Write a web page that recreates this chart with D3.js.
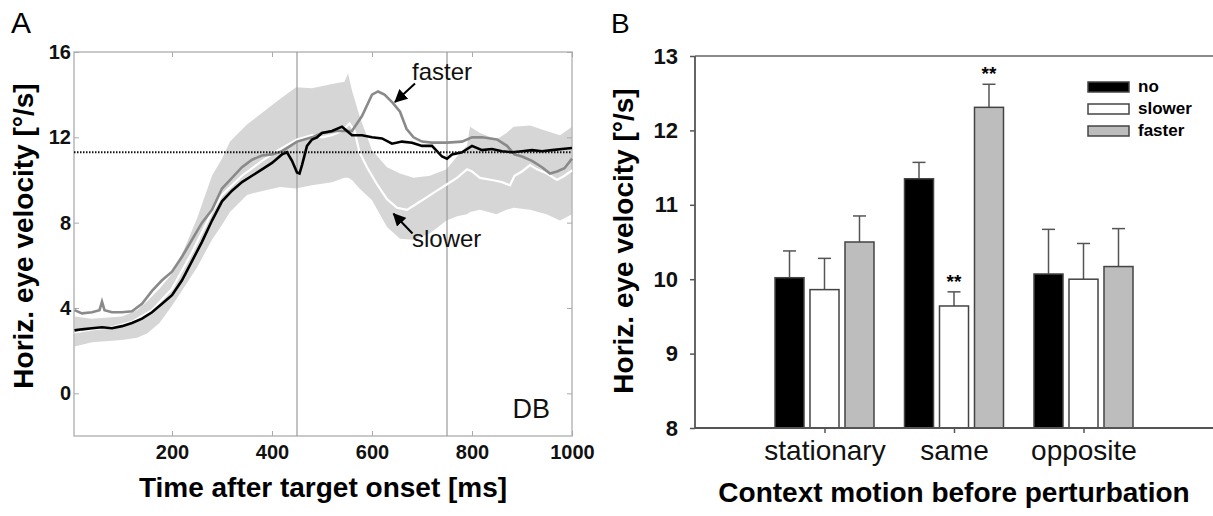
<!DOCTYPE html>
<html lang="en">
<head>
<meta charset="UTF-8">
<script src="https://d3js.org/d3.v7.min.js"></script>
<title>Horizontal eye velocity</title>
<style>
    body { margin: 0; background: #fff; }
    svg { display: block; font-family: "Liberation Sans", Arial, Helvetica, sans-serif; }
    .title { font-weight: bold; font-size: 28px; }
    .tickA text { font-weight: bold; font-size: 20px; fill: #111; }
    .tickA line { stroke: #aaa; }
    .tickB text { font-weight: bold; font-size: 22px; fill: #111; }
    .tickB line { stroke: #555; stroke-width: 1.5px; }
    .cat text { font-size: 28px; fill: #111; }
    .cat line { stroke: #555; stroke-width: 1.5px; }
</style>
</head>
<body>
<svg id="chart" width="1213" height="516"></svg>
<script>
// panel A: traces (time in ms, velocity in deg/s)
const noTime = [5,20,40,60,80,100,120,140,160,180,200,220,240,260,280,300,320,340,360,380,400,420,430,440,450,455,460,470,480,490,500,520,540,550,560,580,600,620,640,660,680,700,720,740,750,760,780,800,820,840,860,880,900,920,940,960,980,1000];
const noVel  = [2.95,3.0,3.05,3.1,3.05,3.15,3.3,3.5,3.8,4.2,4.6,5.3,6.2,7.1,8.1,9.0,9.5,9.9,10.2,10.5,10.8,11.2,11.3,10.9,10.35,10.3,10.7,11.6,11.9,12.0,12.2,12.3,12.5,12.3,12.1,12.1,12.0,11.95,11.7,11.8,11.75,11.6,11.6,11.1,11.0,11.2,11.3,11.6,11.4,11.45,11.35,11.3,11.35,11.4,11.35,11.4,11.45,11.5];

const slowerTime = [5,40,80,120,160,200,240,280,300,340,380,420,450,480,500,520,540,555,565,575,590,610,630,650,670,690,710,730,750,770,790,800,816,840,860,876,885,900,916,930,950,970,985,1000];
const slowerVel  = [2.85,3.0,3.1,3.35,3.9,4.9,6.6,8.5,9.3,10.2,10.9,11.5,11.9,12.1,12.0,12.1,12.3,12.65,12.3,11.3,10.6,9.8,9.1,8.7,8.6,8.9,9.2,9.5,9.8,10.1,10.5,10.4,10.1,10.0,9.9,9.75,10.2,10.4,10.7,10.5,10.3,10.0,10.2,10.45];

const fasterTime = [5,20,40,55,60,65,80,100,120,140,160,180,200,220,240,260,280,300,320,340,360,380,400,420,450,480,500,530,560,580,600,612,625,642,656,669,683,700,720,750,780,800,820,850,870,885,900,920,940,956,970,985,1000];
const fasterVel  = [3.9,3.75,3.8,3.9,4.3,3.9,3.8,3.8,3.85,4.2,4.8,5.3,5.7,6.4,7.2,8.0,8.6,9.6,10.1,10.6,10.95,11.15,11.2,11.35,11.8,12.0,12.2,12.3,12.3,13.0,14.0,14.15,14.0,13.6,13.2,12.4,12.0,11.8,11.75,11.75,11.8,12.0,12.0,11.9,11.6,11.2,11.1,10.9,10.6,10.3,10.4,10.55,11.0];

// shaded variability band
const bandTime  = [5,40,100,130,150,175,200,225,250,280,300,316,350,383,416,448,480,520,545,552,560,575,600,630,656,683,716,749,770,790,796,816,849,869,883,916,949,976,1000];
const bandUpper = [3.6,3.5,3.6,3.9,4.3,4.9,5.6,6.8,8.2,10.2,11.0,11.8,12.6,13.2,13.8,14.35,14.3,14.5,14.6,15.0,14.2,13.0,11.4,10.6,10.3,10.1,10.2,10.5,11.1,11.6,12.5,12.2,11.9,12.2,12.5,12.55,12.3,12.1,12.5];
const bandLower = [2.2,2.4,2.5,2.6,2.8,3.3,4.1,5.0,5.9,7.2,7.9,8.5,9.3,9.5,9.67,9.6,9.75,9.9,10.1,10.1,10.0,9.6,9.05,7.8,7.25,7.2,7.5,8.1,8.3,8.4,8.5,8.6,8.4,8.6,8.7,8.6,8.4,8.1,8.4];

const eventTimes = [450, 750];
const targetVel = 11.3;
const xTicksA = [200, 400, 600, 800, 1000];
const yTicksA = [0, 4, 8, 12, 16];

// panel B: mean velocity per context and perturbation
const categories = ["stationary", "same", "opposite"];
const series = ["no", "slower", "faster"];
const noMean = [10.02, 11.35, 10.07];
const slowerMean = [9.86, 9.64, 10.0];
const fasterMean = [10.5, 12.31, 10.17];
const noErr = [0.36, 0.22, 0.6];
const slowerErr = [0.42, 0.19, 0.48];
const fasterErr = [0.35, 0.31, 0.51];
const significant = [["same", "slower"], ["same", "faster"]];
const yTicksB = [8, 9, 10, 11, 12, 13];

const svg = d3.select("#chart");
const zip = (t, v) => t.map((d, i) => [d, v[i]]);
const intFmt = d3.format("d");

// ---------- panel A ----------
const xA = d3.scaleLinear().domain([4, 1000]).range([74, 572]);
const yA = d3.scaleLinear().domain([-2, 16]).range([436, 52]);
const gA = svg.append("g");

gA.append("path")
    .datum(bandTime.map((t, i) => ({t: t, lo: bandLower[i], hi: bandUpper[i]})))
    .attr("fill", "#d6d6d6")
    .attr("d", d3.area().x(d => xA(d.t)).y0(d => yA(d.lo)).y1(d => yA(d.hi)));

gA.append("rect")
    .attr("x", xA.range()[0]).attr("y", yA.range()[1])
    .attr("width", xA.range()[1] - xA.range()[0])
    .attr("height", yA.range()[0] - yA.range()[1])
    .attr("fill", "none").attr("stroke", "#b8b8b8").attr("stroke-width", 1.5);

gA.selectAll("line.event").data(eventTimes).enter().append("line")
    .attr("x1", d => xA(d)).attr("x2", d => xA(d))
    .attr("y1", yA.range()[0]).attr("y2", yA.range()[1])
    .attr("stroke", "#999").attr("stroke-width", 1.2);

const lineA = d3.line().x(d => xA(d[0])).y(d => yA(d[1]));
gA.append("path").datum(zip(slowerTime, slowerVel))
    .attr("fill", "none").attr("stroke", "#fff").attr("stroke-width", 2.2).attr("d", lineA);
gA.append("path").datum(zip(fasterTime, fasterVel))
    .attr("fill", "none").attr("stroke", "#8a8a8a").attr("stroke-width", 2.6).attr("d", lineA);
gA.append("path").datum(zip(noTime, noVel))
    .attr("fill", "none").attr("stroke", "#000").attr("stroke-width", 2.6).attr("d", lineA);

gA.append("line")
    .attr("x1", xA.range()[0]).attr("x2", xA.range()[1])
    .attr("y1", yA(targetVel)).attr("y2", yA(targetVel))
    .attr("stroke", "#111").attr("stroke-width", 2).attr("stroke-dasharray", "1.5,1.5");

// axes (MATLAB style box, ticks inward)
gA.append("g").attr("class", "tickA")
    .attr("transform", `translate(0,${yA.range()[0]})`)
    .call(d3.axisBottom(xA).tickValues(xTicksA).tickSize(-5).tickPadding(9).tickFormat(intFmt));
gA.append("g").attr("class", "tickA")
    .attr("transform", `translate(${xA.range()[0]},0)`)
    .call(d3.axisLeft(yA).tickValues(yTicksA).tickSize(-5).tickPadding(3).tickFormat(intFmt));
gA.append("g").attr("class", "tickA")
    .attr("transform", `translate(0,${yA.range()[1]})`)
    .call(d3.axisTop(xA).tickValues(xTicksA).tickSize(-5).tickFormat(""));
gA.append("g").attr("class", "tickA")
    .attr("transform", `translate(${xA.range()[1]},0)`)
    .call(d3.axisRight(yA).tickValues(yTicksA).tickSize(-5).tickFormat(""));
gA.selectAll(".tickA .domain").remove();

// annotations
const marker = svg.append("defs").append("marker")
    .attr("id", "head").attr("markerUnits", "userSpaceOnUse")
    .attr("viewBox", "0 0 12 12").attr("refX", 11).attr("refY", 6)
    .attr("markerWidth", 13).attr("markerHeight", 13).attr("orient", "auto");
marker.append("path").attr("d", "M0,0L12,6L0,12z").attr("fill", "#000");

const arrows = [
    {from: [686, 14.52], to: [646, 13.66]},
    {from: [681, 7.49], to: [643, 8.42]}
];
gA.selectAll("line.arrow").data(arrows).enter().append("line")
    .attr("x1", d => xA(d.from[0])).attr("y1", d => yA(d.from[1]))
    .attr("x2", d => xA(d.to[0])).attr("y2", d => yA(d.to[1]))
    .attr("stroke", "#000").attr("stroke-width", 2).attr("marker-end", "url(#head)");

const notes = [
    {text: "faster", t: 680, v: 14.67, anchor: "start"},
    {text: "slower", t: 680, v: 6.84, anchor: "start"},
    {text: "DB", t: 956, v: -1.17, anchor: "end"}
];
gA.selectAll("text.note").data(notes).enter().append("text")
    .attr("x", d => xA(d.t)).attr("y", d => yA(d.v))
    .attr("text-anchor", d => d.anchor)
    .attr("font-size", d => d.text === "DB" ? 27 : 24)
    .attr("fill", "#111")
    .text(d => d.text);

gA.append("text").attr("class", "title")
    .attr("x", 323).attr("y", 497).attr("text-anchor", "middle")
    .text("Time after target onset [ms]");
gA.append("text").attr("class", "title")
    .attr("transform", "translate(33,236) rotate(-90)").attr("text-anchor", "middle")
    .text("Horiz. eye velocity [°/s]");
svg.append("text").attr("x", 11).attr("y", 33).attr("font-size", 30).text("A");

// ---------- panel B ----------
const xB = d3.scaleLinear().domain([0, 4]).range([695, 1213]);
const yB = d3.scaleLinear().domain([8, 13]).range([428, 56]);
const inner = d3.scaleBand().domain(series).range([-49.5, 49.5]).paddingInner(0.171);
const fills = {no: "#000", slower: "#fff", faster: "#bdbdbd"};
const means = {no: noMean, slower: slowerMean, faster: fasterMean};
const errs = {no: noErr, slower: slowerErr, faster: fasterErr};
const gB = svg.append("g");

const bars = [];
categories.forEach((c, ci) => series.forEach(s => bars.push({
    cat: c, ser: s, pos: ci + 1, mean: means[s][ci], err: errs[s][ci]
})));

const cx = d => xB(d.pos) + inner(d.ser) + inner.bandwidth() / 2;

gB.selectAll("line.err").data(bars).enter().append("line")
    .attr("x1", cx).attr("x2", cx)
    .attr("y1", d => yB(d.mean)).attr("y2", d => yB(d.mean + d.err))
    .attr("stroke", "#555").attr("stroke-width", 1.5);
gB.selectAll("line.cap").data(bars).enter().append("line")
    .attr("x1", d => cx(d) - 6.5).attr("x2", d => cx(d) + 6.5)
    .attr("y1", d => yB(d.mean + d.err)).attr("y2", d => yB(d.mean + d.err))
    .attr("stroke", "#555").attr("stroke-width", 1.5);

gB.selectAll("rect.bar").data(bars).enter().append("rect")
    .attr("x", d => xB(d.pos) + inner(d.ser))
    .attr("width", inner.bandwidth())
    .attr("y", d => yB(d.mean))
    .attr("height", d => yB(8) - yB(d.mean))
    .attr("fill", d => fills[d.ser])
    .attr("stroke", "#444").attr("stroke-width", 1.5);

gB.selectAll("text.sig").data(bars.filter(b => significant.some(p => p[0] === b.cat && p[1] === b.ser)))
    .enter().append("text")
    .attr("x", cx).attr("y", d => yB(d.mean + d.err) - 4)
    .attr("text-anchor", "middle").attr("font-size", 19).attr("font-weight", "bold")
    .text("**");

// frame lines
gB.append("line").attr("x1", xB.range()[0]).attr("x2", xB.range()[1])
    .attr("y1", yB(13)).attr("y2", yB(13)).attr("stroke", "#666").attr("stroke-width", 1.5);
gB.append("line").attr("x1", xB.range()[0]).attr("x2", xB.range()[1])
    .attr("y1", yB(8)).attr("y2", yB(8)).attr("stroke", "#555").attr("stroke-width", 1.8);
gB.append("line").attr("x1", xB.range()[0]).attr("x2", xB.range()[0])
    .attr("y1", yB(8)).attr("y2", yB(13)).attr("stroke", "#555").attr("stroke-width", 1.8);

gB.append("g").attr("class", "tickB")
    .attr("transform", `translate(${xB.range()[0]},0)`)
    .call(d3.axisLeft(yB).tickValues(yTicksB).tickSize(5).tickPadding(12).tickFormat(intFmt))
    .select(".domain").remove();
gB.append("g").attr("class", "cat")
    .attr("transform", `translate(0,${yB(8)})`)
    .call(d3.axisBottom(xB).tickValues([1, 2, 3]).tickSize(5).tickPadding(7)
        .tickFormat(d => categories[d - 1]))
    .select(".domain").remove();

// legend
const legend = gB.selectAll("g.leg").data(series).enter().append("g")
    .attr("transform", (d, i) => `translate(1088,${82 + i * 22})`);
legend.append("rect").attr("width", 41).attr("height", 10)
    .attr("fill", d => fills[d]).attr("stroke", "#444").attr("stroke-width", 1.5);
legend.append("text").attr("x", 50).attr("y", 10)
    .attr("font-size", 17).attr("font-weight", "bold").text(d => d);

gB.append("text").attr("class", "title")
    .attr("x", 954).attr("y", 502).attr("text-anchor", "middle")
    .text("Context motion before perturbation");
gB.append("text").attr("class", "title")
    .attr("transform", "translate(633,241) rotate(-90)").attr("text-anchor", "middle")
    .text("Horiz. eye velocity [°/s]");
svg.append("text").attr("x", 611).attr("y", 33).attr("font-size", 28).text("B");
</script>
</body>
</html>
